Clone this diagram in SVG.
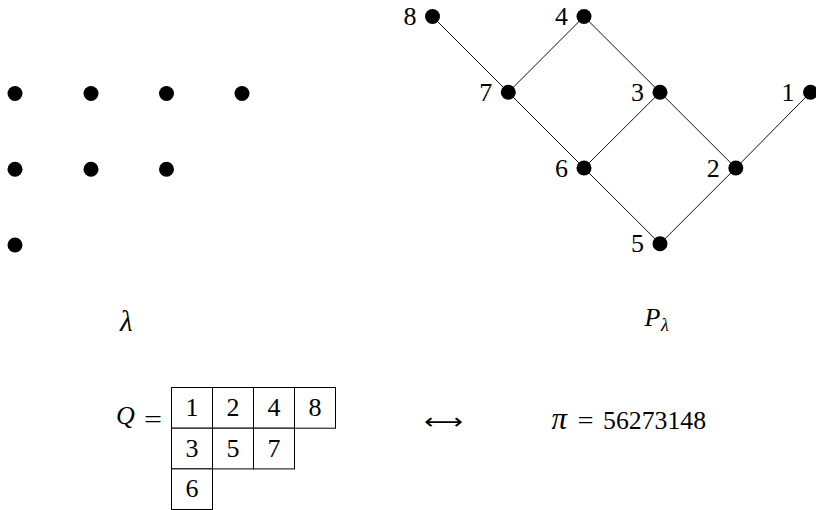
<svg xmlns="http://www.w3.org/2000/svg" width="816" height="510" viewBox="0 0 816 510">
<style>
  .dot { fill: #000; }
  .edge { stroke: #111; stroke-width: 1; fill: none; }
  .lbl { font-family: "Liberation Serif", "DejaVu Serif", serif; font-size: 26px; fill: #000; text-anchor: end; }
  .math { font-family: "Liberation Serif", "DejaVu Serif", serif; font-size: 26px; fill: #000; }
  .it { font-style: italic; }
  .sub { font-size: 18px; }
  .cell { fill: #fff; stroke: #000; stroke-width: 1; }
  .cnum { font-family: "Liberation Serif", "DejaVu Serif", serif; font-size: 26px; fill: #000; text-anchor: middle; }
</style>
<rect width="816" height="510" fill="#fff"/>

<!-- Young diagram lambda as dots -->
<g id="lambda-dots">
  <circle class="dot" cx="15" cy="93.5" r="7.5"/>
  <circle class="dot" cx="91" cy="93.5" r="7.5"/>
  <circle class="dot" cx="166.5" cy="93.5" r="7.5"/>
  <circle class="dot" cx="242" cy="93.5" r="7.5"/>
  <circle class="dot" cx="15" cy="169.2" r="7.5"/>
  <circle class="dot" cx="91" cy="169.2" r="7.5"/>
  <circle class="dot" cx="166.5" cy="169.2" r="7.5"/>
  <circle class="dot" cx="15" cy="245" r="7.5"/>
</g>
<g id="label-lambda"><text class="math it" x="120" y="330.5" style="font-size:29px">λ</text></g>

<!-- Poset P_lambda connectors -->
<g id="connectors">
  <line class="edge" x1="432.5" y1="16.5" x2="508.3" y2="92.3"/>
  <line class="edge" x1="508.3" y1="92.3" x2="584" y2="16.5"/>
  <line class="edge" x1="584" y1="16.5" x2="660" y2="92.3"/>
  <line class="edge" x1="508.3" y1="92.3" x2="584" y2="168"/>
  <line class="edge" x1="660" y1="92.3" x2="584" y2="168"/>
  <line class="edge" x1="660" y1="92.3" x2="735.8" y2="168"/>
  <line class="edge" x1="810.5" y1="92.3" x2="735.8" y2="168"/>
  <line class="edge" x1="584" y1="168" x2="660" y2="243.8"/>
  <line class="edge" x1="735.8" y1="168" x2="660" y2="243.8"/>
</g>

<g id="node-8"><circle class="dot" cx="432.5" cy="16.5" r="7.5"/><text class="lbl" x="416.5" y="25">8</text></g>
<g id="node-4"><circle class="dot" cx="584" cy="16.5" r="7.5"/><text class="lbl" x="568" y="25">4</text></g>
<g id="node-7"><circle class="dot" cx="508.3" cy="92.3" r="7.5"/><text class="lbl" x="492.3" y="100.8">7</text></g>
<g id="node-3"><circle class="dot" cx="660" cy="92.3" r="7.5"/><text class="lbl" x="644" y="100.8">3</text></g>
<g id="node-1"><circle class="dot" cx="810.5" cy="92.3" r="7.5"/><text class="lbl" x="794.5" y="100.8">1</text></g>
<g id="node-6"><circle class="dot" cx="584" cy="168" r="7.5"/><text class="lbl" x="568" y="176.5">6</text></g>
<g id="node-2"><circle class="dot" cx="735.8" cy="168" r="7.5"/><text class="lbl" x="719.8" y="176.5">2</text></g>
<g id="node-5"><circle class="dot" cx="660" cy="243.8" r="7.5"/><text class="lbl" x="644" y="252.3">5</text></g>

<g id="label-P"><text class="math it" x="644.5" y="326">P</text><text class="math it sub" x="661" y="331">λ</text></g>

<!-- Tableau Q -->
<g id="Q-label">
  <text class="math it" x="116" y="424">Q</text>
  <text class="math" x="144" y="428" textLength="18" lengthAdjust="spacingAndGlyphs">=</text>
</g>
<g id="tableau">
  <rect class="cell" x="171.5" y="387.5" width="41" height="40.7"/>
  <rect class="cell" x="212.5" y="387.5" width="41" height="40.7"/>
  <rect class="cell" x="253.5" y="387.5" width="41" height="40.7"/>
  <rect class="cell" x="294.5" y="387.5" width="41" height="40.7"/>
  <rect class="cell" x="171.5" y="428.2" width="41" height="40.7"/>
  <rect class="cell" x="212.5" y="428.2" width="41" height="40.7"/>
  <rect class="cell" x="253.5" y="428.2" width="41" height="40.7"/>
  <rect class="cell" x="171.5" y="468.9" width="41" height="40.6"/>
  <text class="cnum" x="192" y="416">1</text>
  <text class="cnum" x="233" y="416">2</text>
  <text class="cnum" x="274" y="416">4</text>
  <text class="cnum" x="315" y="416">8</text>
  <text class="cnum" x="192" y="456.7">3</text>
  <text class="cnum" x="233" y="456.7">5</text>
  <text class="cnum" x="274" y="456.7">7</text>
  <text class="cnum" x="192" y="497.4">6</text>
</g>

<g id="bijection-arrow">
  <text x="424" y="429" font-family="DejaVu Sans, sans-serif" font-size="22" textLength="39" lengthAdjust="spacingAndGlyphs">⟷</text>
</g>

<g id="pi-label">
  <text class="math it" x="551.5" y="429" style="font-size:31px">π</text>
  <text class="math" x="577.5" y="429" textLength="16" lengthAdjust="spacingAndGlyphs">=</text>
  <text class="math" x="603" y="429" textLength="103" lengthAdjust="spacingAndGlyphs">56273148</text>
</g>
</svg>
